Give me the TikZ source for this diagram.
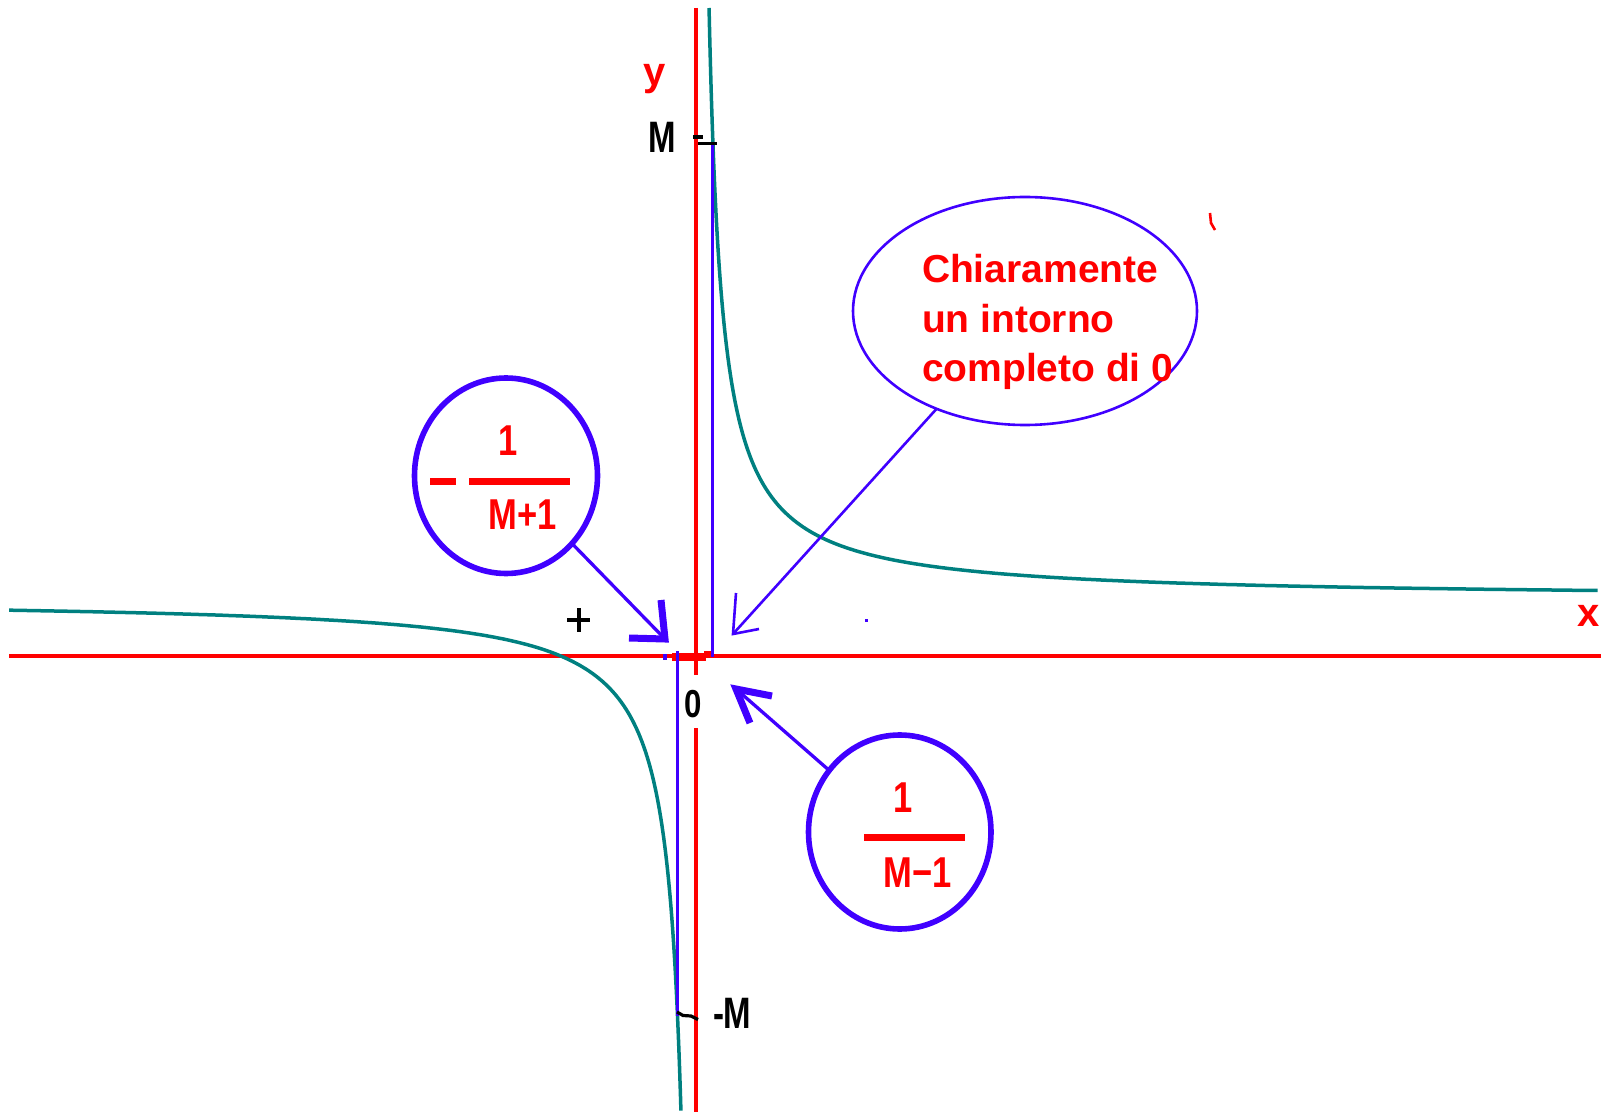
\documentclass[tikz,border=0pt]{standalone}
\usepackage{fontspec}
\setmainfont{Liberation Sans}
\usetikzlibrary{calc,shapes.geometric}
\definecolor{myblue}{RGB}{64,0,255}
\definecolor{myteal}{RGB}{0,128,128}
\definecolor{myred}{RGB}{255,0,0}
\newcommand\narrow[2]{\scalebox{#1}[1]{#2}}
\begin{document}
\begin{tikzpicture}[x=0.5pt,y=-0.5pt,
  axisline/.style={myred, line width=2pt},
  curveline/.style={myteal, line width=1.75pt},
  bline/.style={myblue, line width=1.5pt},
  barrow/.style={myblue, line width=1.65pt},
  bhead/.style={myblue, line width=3.5pt},
  ethin/.style={myblue, line width=1.3pt},
  circ/.style={draw=myblue, line width=2.8pt, ellipse, inner sep=0pt, outer sep=0pt},
  tickline/.style={black, line width=1.6pt},
  lbl/.style={inner sep=0pt, outer sep=0pt, font=\bfseries\fontsize{22}{24}\selectfont},
  rtxt/.style={inner sep=0pt, outer sep=0pt, text=myred, font=\bfseries\fontsize{19.5}{24}\selectfont},
  ftxt/.style={inner sep=0pt, outer sep=0pt, text=myred, font=\bfseries\fontsize{21.6}{24}\selectfont}]
\useasboundingbox (0,0) rectangle (1601,1112);

% axes
\coordinate (xl) at (9,655.7);
\coordinate (xr) at (1601,655.7);
\coordinate (yt) at (696,8);
\coordinate (ym1) at (696,675);
\coordinate (ym2) at (696,728);
\coordinate (yb) at (696,1112);
\draw[axisline] (xl) -- (xr);
\draw[axisline] (yt) -- (ym1);
\draw[axisline] (ym2) -- (yb);
\fill[myred] (672,653) rectangle (706,661);
\fill[myred] (704,651) rectangle (712,657);

% hyperbola
\draw[curveline] plot[variable=\t, domain=0:1, samples=300]
  ({696+13.05*exp(4.239*\t)}, {599-591*exp(-4.239*\t)});
\draw[curveline] plot[variable=\t, domain=1:0, samples=300]
  ({696-15.03*exp(3.822*\t)}, {599+513.1*exp(-3.822*\t)});

% blue verticals
\coordinate (br1) at (712,142);
\coordinate (br2) at (712,657);
\coordinate (bl1) at (677,651);
\coordinate (bl2) at (677,1016);
\draw[bline] (br1) -- (br2);
\draw[bline] (bl1) -- (bl2);
\fill[myblue] (663,654) rectangle (667,660);

% ticks
\draw[tickline] (693,137) -- (703,137);
\draw[tickline] (698,143.5) -- (717,143.5);
\draw[tickline] (677,1012) -- (683,1015.5) -- (691,1016) -- (698,1019.5);

% cross and dot
\draw[black, line width=2pt] (567,620) -- (590,620);
\draw[black, line width=2pt] (578.5,608) -- (578.5,632);
\fill[myblue] (865,619) rectangle (868,622);
\draw[myred, line width=1.3pt] (1210,213) -- (1211,223) -- (1215,230);

% labels
\node[lbl, anchor=base] (lM) at (662,153) {\narrow{0.75}{M}};
\node[lbl, anchor=base west] (lmM) at (713,1028) {\narrow{0.75}{-M}};
\node[lbl, anchor=base, font=\bfseries\fontsize{19.5}{24}\selectfont] (l0) at (693.5,717) {\narrow{0.8}{0}};
\node[lbl, anchor=base, text=myred, font=\bfseries\fontsize{20}{24}\selectfont] (lx) at (1588.5,626) {x};
\node[lbl, anchor=base, text=myred, font=\bfseries\fontsize{20}{24}\selectfont] (ly) at (655,86) {y};

% left circle
\node[circ, minimum width=91.5pt, minimum height=97.75pt] (lc) at (506,475.75) {};
\node[ftxt, anchor=base] (lnum) at (508.5,456) {\narrow{0.8}{1}};
\node[ftxt, anchor=base] (lden) at (523,530) {\narrow{0.8}{M+1}};
\fill[myred] (469,478) rectangle (570,485);
\fill[myred] (430,478) rectangle (456,485);
\coordinate (tipL) at (665,639);
\draw[barrow] (lc) -- (tipL);
\draw[bhead] ($(tipL)+(-36,-1)$) -- (tipL) -- ($(tipL)+(-4,-39)$);

% right circle
\node[circ, minimum width=91.25pt, minimum height=97pt] (rc) at (899.75,832) {};
\node[ftxt, anchor=base] (rnum) at (903,812) {\narrow{0.8}{1}};
\node[ftxt, anchor=base] (rden) at (917.5,887) {\narrow{0.8}{M−1}};
\fill[myred] (864,834) rectangle (965,841);
\coordinate (tipR) at (736,689);
\draw[barrow] (rc) -- (tipR);
\draw[bhead] ($(tipR)+(36,7)$) -- (tipR) -- ($(tipR)+(14,34)$);

% ellipse
\node[draw=myblue, line width=1.3pt, ellipse, inner sep=0pt, outer sep=0pt,
      minimum width=172pt, minimum height=114pt] (ell) at (1025,311) {};
\node[rtxt, anchor=base west] (e1) at (922,283) {Chiaramente};
\node[rtxt, anchor=base west] (e2) at (922,333) {un intorno};
\node[rtxt, anchor=base west] (e3) at (922,382) {completo di 0};
\coordinate (tipE) at (733,634);
\draw[ethin] (ell) -- (tipE);
\draw[ethin] ($(tipE)+(3,-41)$) -- (tipE) -- ($(tipE)+(26,-5)$);
\end{tikzpicture}
\end{document}
